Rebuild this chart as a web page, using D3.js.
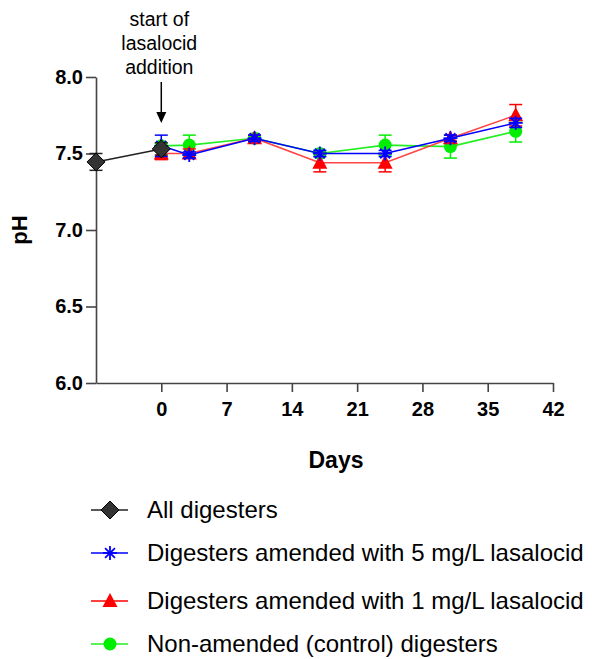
<!DOCTYPE html>
<html><head><meta charset="utf-8">
<script src="https://cdn.jsdelivr.net/npm/d3@7"></script>
<style>body{margin:0;background:#fff}svg{display:block}</style>
</head><body>
<svg id="c" width="592" height="659"></svg>
<script>
// Data
const xTicks = [0, 7, 14, 21, 28, 35, 42];
const yTicks = [6.0, 6.5, 7.0, 7.5, 8.0];
const allDays = [-7, 0];
const allPH = [7.445, 7.53];
const allErr = [0.055, 0.04];
const treatDays = [0, 3, 10, 17, 24, 31, 38];
const blueMean = [7.55, 7.49, 7.60, 7.50, 7.50, 7.60, 7.70];
const blueErr = [0.07, 0.02, 0.02, 0.02, 0.02, 0.02, 0.03];
const redMean = [7.50, 7.50, 7.60, 7.44, 7.44, 7.60, 7.75];
const redErr = [0.04, 0.03, 0.02, 0.06, 0.06, 0.02, 0.07];
const greenMean = [7.55, 7.555, 7.60, 7.50, 7.555, 7.545, 7.645];
const greenErr = [0.02, 0.065, 0.02, 0.02, 0.065, 0.075, 0.07];
const legendLabels = ["All digesters", "Digesters amended with 5 mg/L lasalocid", "Digesters amended with 1 mg/L lasalocid", "Non-amended (control) digesters"];

const svg = d3.select("#c");
const x = d3.scaleLinear().domain([-7, 42]).range([96, 553]);
const y = d3.scaleLinear().domain([6, 8]).range([383, 77]);
const axisColor = "#444";
const font = "'Liberation Sans', Arial, sans-serif";

// axes
const xa = svg.append("g").attr("transform", "translate(0,383)")
  .call(d3.axisBottom(x).tickValues(xTicks).tickSize(9).tickSizeOuter(0).tickPadding(6).tickFormat(d3.format("d")));
const ya = svg.append("g").attr("transform", "translate(96,0)")
  .call(d3.axisLeft(y).tickValues(yTicks).tickSize(10).tickSizeOuter(0).tickPadding(3).tickFormat(d3.format(".1f")));
[xa, ya].forEach(a => {
  a.select(".domain").attr("stroke", axisColor).attr("stroke-width", 1.6);
  a.selectAll(".tick line").attr("stroke", axisColor).attr("stroke-width", 1.6);
  a.selectAll("text").attr("fill", "#000").style("font-family", font).style("font-weight", "bold").style("font-size", "20px");
});
xa.selectAll("text").attr("dy", "0.9em");

// axis titles
svg.append("text").attr("x", 336).attr("y", 468).attr("text-anchor", "middle")
  .style("font-family", font).style("font-weight", "bold").style("font-size", "23px").text("Days");
svg.append("text").attr("transform", "translate(27,230) rotate(-90)").attr("text-anchor", "middle")
  .style("font-family", font).style("font-weight", "bold").style("font-size", "22px").text("pH");

// annotation
const ann = ["start of", "lasalocid", "addition"];
svg.append("g").selectAll("text").data(ann).join("text")
  .attr("x", x(0) - 2).attr("y", (d, i) => 26 + i * 24).attr("text-anchor", "middle")
  .style("font-family", font).style("font-size", "19.5px").text(d => d);
svg.append("line").attr("x1", x(0)).attr("x2", x(0)).attr("y1", 82).attr("y2", 114)
  .attr("stroke", "#000").attr("stroke-width", 1.5);
svg.append("path").attr("d", `M${x(0)-5},112 L${x(0)+5},112 L${x(0)},123 Z`).attr("fill", "#000");

// symbols
function drawMarker(g, type, cx, cy) {
  if (type === "diamond") {
    g.append("path").attr("d", `M${cx},${cy-9} L${cx+9},${cy} L${cx},${cy+9} L${cx-9},${cy} Z`)
      .attr("fill", "#333").attr("stroke", "#000").attr("stroke-width", 1);
  } else if (type === "star") {
    const r = 7;
    for (let k = 0; k < 4; k++) {
      const a = k * Math.PI / 4;
      g.append("line").attr("x1", cx - r * Math.cos(a)).attr("y1", cy - r * Math.sin(a))
        .attr("x2", cx + r * Math.cos(a)).attr("y2", cy + r * Math.sin(a))
        .attr("stroke", "#0000ff").attr("stroke-width", 1.8);
    }
  } else if (type === "triangle") {
    g.append("path").attr("d", `M${cx},${cy-8} L${cx+7.5},${cy+6} L${cx-7.5},${cy+6} Z`).attr("fill", "#ff0000");
  } else if (type === "circle") {
    g.append("circle").attr("cx", cx).attr("cy", cy).attr("r", 6.5).attr("fill", "#00ee00");
  }
}

const series = [
  {days: treatDays, m: greenMean, e: greenErr, color: "#00ee00", line: "#22ee22", marker: "circle"},
  {days: treatDays, m: redMean, e: redErr, color: "#ff0000", line: "#ff4444", marker: "triangle"},
  {days: treatDays, m: blueMean, e: blueErr, color: "#0000ff", line: "#0000ff", marker: "star"},
  {days: allDays, m: allPH, e: allErr, color: "#222", line: "#222", marker: "diamond"}
];
const lineGen = d3.line().x(d => x(d[0])).y(d => y(d[1]));
series.forEach(s => {
  const g = svg.append("g");
  const pts = s.days.map((d, i) => [d, s.m[i], s.e[i]]);
  g.append("path").attr("d", lineGen(pts)).attr("fill", "none").attr("stroke", s.line).attr("stroke-width", 1.6);
  pts.forEach(p => {
    const cx = x(p[0]);
    g.append("line").attr("x1", cx).attr("x2", cx).attr("y1", y(p[1] - p[2])).attr("y2", y(p[1] + p[2]))
      .attr("stroke", s.color).attr("stroke-width", 1.5);
    [p[1] - p[2], p[1] + p[2]].forEach(v => {
      g.append("line").attr("x1", cx - 6.5).attr("x2", cx + 6.5).attr("y1", y(v)).attr("y2", y(v))
        .attr("stroke", s.color).attr("stroke-width", 1.5);
    });
  });
  pts.forEach(p => drawMarker(g, s.marker, x(p[0]), y(p[1])));
});

// legend
const legTypes = [["diamond", "#222"], ["star", "#0000ff"], ["triangle", "#ff0000"], ["circle", "#22ee22"]];
const legY = [510, 553, 601, 644];
legendLabels.forEach((lab, i) => {
  const g = svg.append("g");
  g.append("line").attr("x1", 91).attr("x2", 128).attr("y1", legY[i]).attr("y2", legY[i])
    .attr("stroke", legTypes[i][1]).attr("stroke-width", 1.6);
  drawMarker(g, legTypes[i][0], 110, legY[i]);
  g.append("text").attr("x", 147).attr("y", legY[i]).attr("dy", "0.35em")
    .style("font-family", font).style("font-size", "24px").text(lab);
});
</script>
</body></html>
